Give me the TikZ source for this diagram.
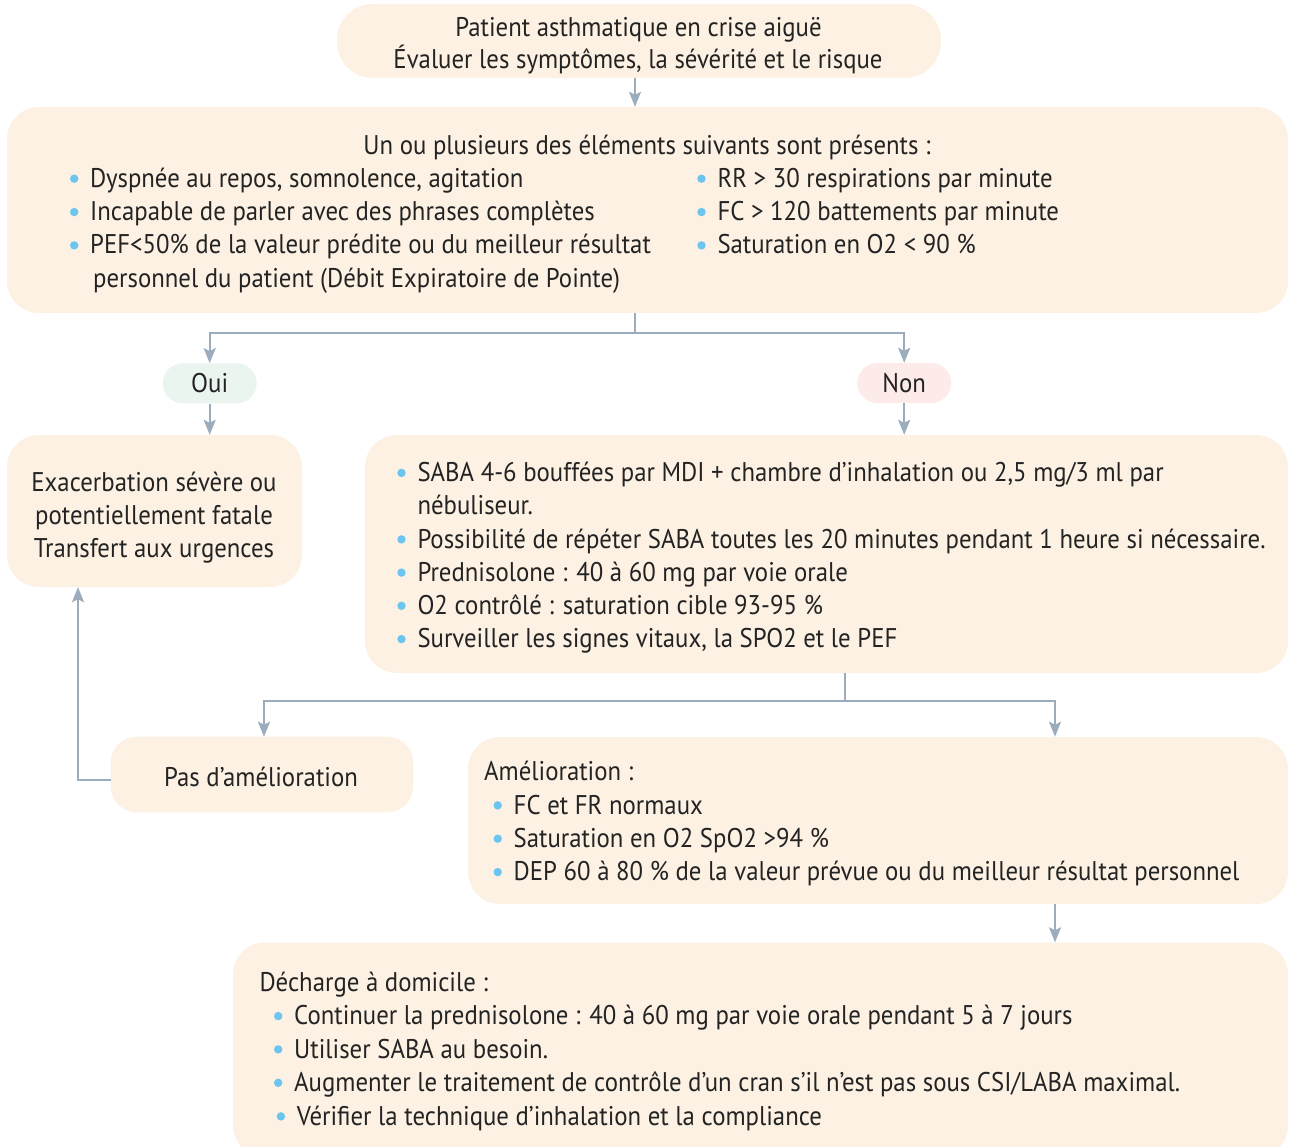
\documentclass[tikz,border=0pt]{standalone}
\usepackage{fontspec}
\setmainfont{PT Sans}[FakeStretch=0.918]
\usetikzlibrary{arrows.meta}
\definecolor{cream}{RGB}{252,241,227}
\definecolor{ouifill}{RGB}{234,245,239}
\definecolor{nonfill}{RGB}{252,235,233}
\definecolor{linkc}{RGB}{155,172,189}
\definecolor{bulc}{RGB}{108,197,238}
\definecolor{inkc}{RGB}{35,35,35}
% one bulleted line: name, text x, baseline y, text
\newcommand\bitem[4]{%
  \fill[bulc] (#2-15.8,#3-8.6) circle (4.2);
  \node[txt] (#1) at (#2,#3) {#4};}
\begin{document}
\begin{tikzpicture}[x=1pt,y=-1pt,
  box/.style={fill=cream,rounded corners=32pt,inner sep=0pt},
  pill/.style={rounded corners=20pt,inner sep=0pt,minimum width=94pt,minimum height=40pt},
  txt/.style={inner sep=0pt,anchor=base west,text=inkc,font=\fontsize{27}{33}\selectfont},
  ctxt/.style={txt,anchor=base},
  arr/.style={draw=linkc,line width=2pt,-{Stealth[length=15pt,width=12pt,inset=3pt]}},
  lnk/.style={draw=linkc,line width=2pt}]
\useasboundingbox (0,0) rectangle (1290,1147);
\clip (0,0) rectangle (1290,1147);

% boxes
\node[box,minimum width=604pt,minimum height=74pt,rounded corners=36pt] (top) at (639,41) {};
\node[box,minimum width=1281pt,minimum height=206pt] (crit) at (647.5,210) {};
\node[pill,fill=ouifill] (oui) at (209.7,383.3) {};
\node[pill,fill=nonfill] (non) at (904.2,383) {};
\node[box,minimum width=295pt,minimum height=152pt] (severe) at (154.5,511) {};
\node[box,minimum width=923pt,minimum height=238pt] (saba) at (826.5,554) {};
\node[box,minimum width=302.6pt,minimum height=75.6pt,rounded corners=26pt] (pas) at (262,774.5) {};
\node[box,minimum width=820pt,minimum height=167pt] (amel) at (878,820.5) {};
\node[box,minimum width=1055pt,minimum height=215pt] (home) at (760.5,1050) {};

% connectors
\coordinate (j1) at (635,333);
\coordinate (j2) at (845,700.5);
\coordinate (j3) at (78,780);
\draw[arr] (top.south -| j1) -- (crit.north -| j1);
\draw[lnk] (crit.south -| j1) -- (j1);
\draw[arr] (j1) -| (oui.north);
\draw[arr] (j1) -| (non.north);
\draw[arr] (oui.south) -- (severe.north -| oui.south);
\draw[arr] (non.south) -- (saba.north -| non.south);
\draw[lnk] (saba.south -| j2) -- (j2);
\draw[arr] (j2) -| (264,736.7);
\draw[arr] (j2) -| (1055,736.7);
\draw[arr] (pas.west |- j3) -- (j3) -- (severe.south -| j3);
\draw[arr] (amel.south -| 1055,0) -- (home.north -| 1055,0);

% texts
\node[ctxt] (t1) at (638.5,36.5) {Patient asthmatique en crise aiguë};
\node[ctxt] (t2) at (638,69) {Évaluer les symptômes, la sévérité et le risque};

\node[ctxt] (c0) at (647,154.3) {Un ou plusieurs des éléments suivants sont présents :};
\bitem{c1}{90}{187.3}{Dyspnée au repos, somnolence, agitation}
\bitem{c2}{90}{220.7}{Incapable de parler avec des phrases complètes}
\bitem{c3}{90}{254}{PEF<50\% de la valeur prédite ou du meilleur résultat}
\node[txt] (c4) at (93,287.3) {personnel du patient (Débit Expiratoire de Pointe)};
\bitem{c5}{717.3}{187.3}{RR > 30 respirations par minute}
\bitem{c6}{717.3}{220.7}{FC > 120 battements par minute}
\bitem{c7}{717.3}{254}{Saturation en O2 < 90 \%}

\node[ctxt] (o1) at (oui.center |- 0,392.5) {Oui};
\node[ctxt] (n1) at (non.center |- 0,392.5) {Non};

\node[ctxt] (s1) at (154,491.5) {Exacerbation sévère ou};
\node[ctxt] (s2) at (154,524.5) {potentiellement fatale};
\node[ctxt] (s3) at (154,557.5) {Transfert aux urgences};

\bitem{m1}{417.3}{481.5}{SABA 4-6 bouffées par MDI + chambre d’inhalation ou 2,5 mg/3 ml par}
\node[txt] (m2) at (417.3,514.7) {nébuliseur.};
\bitem{m3}{417.3}{548}{Possibilité de répéter SABA toutes les 20 minutes pendant 1 heure si nécessaire.}
\bitem{m4}{417.3}{581.2}{Prednisolone : 40 à 60 mg par voie orale}
\bitem{m5}{417.3}{614.4}{O2 contrôlé : saturation cible 93-95 \%}
\bitem{m6}{417.3}{647.7}{Surveiller les signes vitaux, la SPO2 et le PEF}

\node[ctxt] (p1) at (261,786) {Pas d’amélioration};

\node[txt] (a0) at (484,780.7) {Amélioration :};
\bitem{a1}{513.5}{814}{FC et FR normaux}
\bitem{a2}{513.5}{847.3}{Saturation en O2 SpO2 >94 \%}
\bitem{a3}{513.5}{880.7}{DEP 60 à 80 \% de la valeur prévue ou du meilleur résultat personnel}

\node[txt] (h0) at (259.3,991.7) {Décharge à domicile :};
\bitem{h1}{294}{1024.7}{Continuer la prednisolone : 40 à 60 mg par voie orale pendant 5 à 7 jours}
\bitem{h2}{294}{1058}{Utiliser SABA au besoin.}
\bitem{h3}{294}{1091.4}{Augmenter le traitement de contrôle d’un cran s’il n’est pas sous CSI/LABA maximal.}
\bitem{h4}{296.7}{1125}{Vérifier la technique d’inhalation et la compliance}
\end{tikzpicture}
\end{document}
